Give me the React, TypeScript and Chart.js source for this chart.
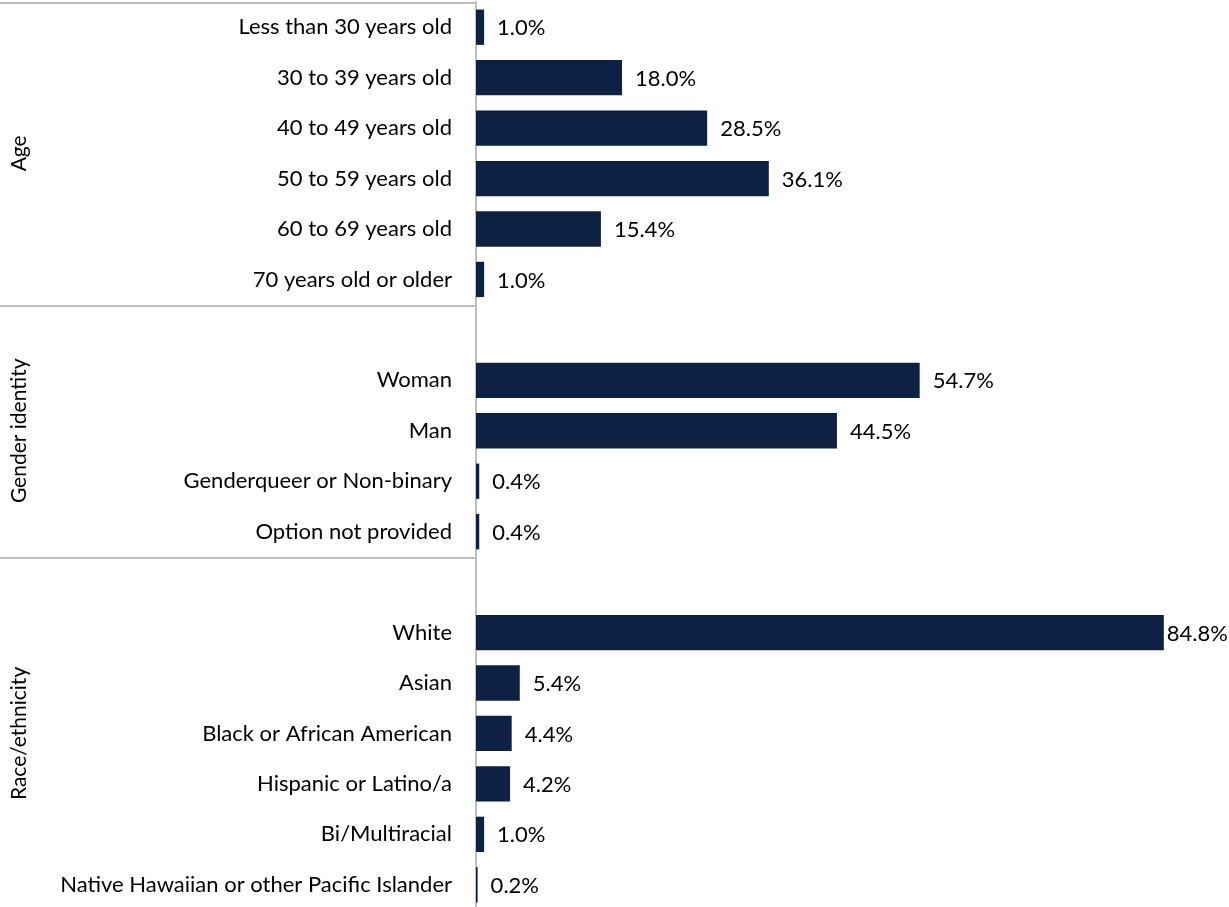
import React, { useEffect, useRef } from "react";
import { Chart, registerables } from "chart.js";
Chart.register(...registerables);

const categories = [
  "Less than 30 years old",
  "30 to 39 years old",
  "40 to 49 years old",
  "50 to 59 years old",
  "60 to 69 years old",
  "70 years old or older",
  "",
  "Woman",
  "Man",
  "Genderqueer or Non-binary",
  "Option not provided",
  "",
  "White",
  "Asian",
  "Black or African American",
  "Hispanic or Latino/a",
  "Bi/Multiracial",
  "Native Hawaiian or other Pacific Islander",
];
const values: (number | null)[] = [
  1.0, 18.0, 28.5, 36.1, 15.4, 1.0, null, 54.7, 44.5, 0.4, 0.4, null, 84.8, 5.4, 4.4, 4.2, 1.0, 0.2,
];
const groupLabels = ["Age", "Gender identity", "Race/ethnicity"];
const groupStarts = [0, 6, 11];
const groupEnds = [5, 10, 17];

const FONT = "Lato, 'Open Sans', sans-serif";
const FONT_SIZE = 22;
const GROUP_FONT_SIZE = 21;
const BAR_COLOR = "#0F2143";
const LINE_COLOR = "#BFBFBF";

const decorPlugin = {
  id: "decor",
  afterDraw(chart: any) {
    const ctx = chart.ctx as CanvasRenderingContext2D;
    const y = chart.scales.y;
    const area = chart.chartArea;
    const half = (y.getPixelForValue(1) - y.getPixelForValue(0)) / 2;
    ctx.save();
    for (let i = 0; i < groupLabels.length; i++) {
      const top = y.getPixelForValue(groupStarts[i]) - half;
      const bottom = y.getPixelForValue(groupEnds[i]) + half;
      ctx.strokeStyle = LINE_COLOR;
      ctx.lineWidth = 2;
      ctx.beginPath();
      ctx.moveTo(0, Math.round(top) + 1);
      ctx.lineTo(area.left, Math.round(top) + 1);
      ctx.stroke();
      ctx.save();
      ctx.translate(19, (top + bottom) / 2);
      ctx.rotate(-Math.PI / 2);
      ctx.fillStyle = "#000";
      ctx.font = `${GROUP_FONT_SIZE}px ${FONT}`;
      ctx.textAlign = "center";
      ctx.textBaseline = "middle";
      ctx.fillText(groupLabels[i], 0, 0);
      ctx.restore();
    }
    const meta = chart.getDatasetMeta(0);
    ctx.font = `${FONT_SIZE}px ${FONT}`;
    ctx.fillStyle = "#000";
    ctx.textAlign = "left";
    ctx.textBaseline = "middle";
    meta.data.forEach((el: any, i: number) => {
      const v = values[i];
      if (v === null || v === undefined) return;
      const txt = v.toFixed(1) + "%";
      const w = ctx.measureText(txt).width;
      let x = el.x + 13;
      if (x + w > chart.width - 2) x = el.x + 3;
      ctx.fillText(txt, x, el.y + 1);
    });
    ctx.restore();
  },
};

export default function App() {
  const ref = useRef<HTMLCanvasElement | null>(null);
  useEffect(() => {
    if (!ref.current) return;
    const chart = new Chart(ref.current, {
      type: "bar",
      data: {
        labels: categories,
        datasets: [
          {
            data: values as any,
            backgroundColor: BAR_COLOR,
            borderWidth: 0,
            barPercentage: 0.7,
            categoryPercentage: 1.0,
          },
        ],
      },
      options: {
        indexAxis: "y",
        animation: false,
        responsive: false,
        devicePixelRatio: 1,
        layout: { padding: { top: 2, right: 23, left: 0, bottom: 0 } },
        plugins: { legend: { display: false }, tooltip: { enabled: false } },
        scales: {
          x: { display: false, min: 0, max: 90 },
          y: {
            grid: { display: false, drawTicks: false },
            border: { display: true, color: LINE_COLOR, width: 2 },
            ticks: {
              color: "#000",
              font: { family: FONT, size: FONT_SIZE },
              padding: 24,
              autoSkip: false,
            },
            afterFit(scale: any) {
              scale.width = 476;
              scale.paddingTop = 0;
              scale.paddingBottom = 0;
            },
          },
        },
      },
      plugins: [decorPlugin],
    });
    return () => chart.destroy();
  }, []);
  return (
    <div
      style={{
        position: "absolute",
        left: 0,
        top: 0,
        width: 1229,
        height: 907,
        overflow: "hidden",
        background: "#fff",
      }}
    >
      <canvas ref={ref} width={1229} height={910} style={{ display: "block" }} />
    </div>
  );
}
